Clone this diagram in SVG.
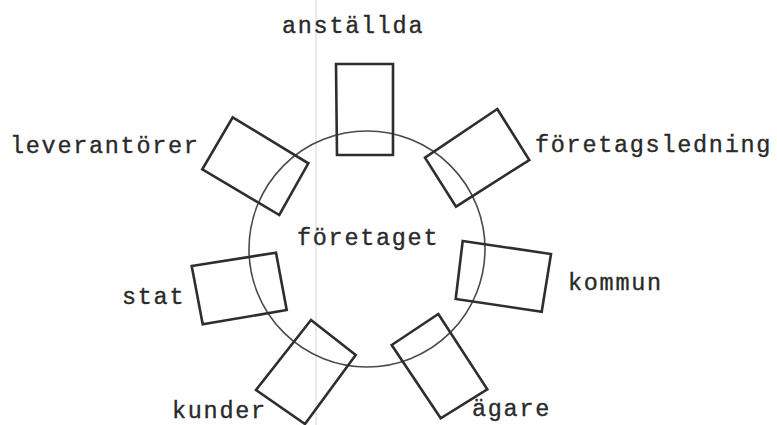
<svg xmlns="http://www.w3.org/2000/svg" width="777" height="425" viewBox="0 0 777 425">
<style>
.bg{fill:#ffffff}
.crease{stroke:#d4d4d4;stroke-width:1;fill:none}
.circle{fill:none;stroke:#4a4a4a;stroke-width:1.6}
.box{fill:none;stroke:#2e2e2e;stroke-width:2.6;stroke-linejoin:miter}
.lbl{font-family:"Liberation Mono","DejaVu Sans Mono",monospace;font-size:23.5px;fill:#2a2a2a;stroke:#2a2a2a;stroke-width:0.35;letter-spacing:1.7px}
</style>
<rect class="bg" x="0" y="0" width="777" height="425"/>
<line class="crease" x1="316" y1="0" x2="316" y2="425"/>
<g id="foretaget">
<circle class="circle" cx="367" cy="249" r="118"/>
<text class="lbl" x="297" y="245">företaget</text>
</g>
<g id="connectors"></g>
<g id="anstallda">
<polygon class="box" points="336,64 393,64 393,155 337,155"/>
<text class="lbl" x="282" y="33">anställda</text>
</g>
<g id="foretagsledning">
<polygon class="box" points="497.3,109 529.3,160 456,206.7 425,157.7"/>
<text class="lbl" x="535" y="152">företagsledning</text>
</g>
<g id="kommun">
<polygon class="box" points="462.7,241 551,254 541.7,311.7 455.7,299"/>
<text class="lbl" x="568" y="290">kommun</text>
</g>
<g id="agare">
<polygon class="box" points="438.3,314 487.3,389.3 440.7,418.3 391.7,345"/>
<text class="lbl" x="472" y="416">ägare</text>
</g>
<g id="kunder">
<polygon class="box" points="311,320 355.7,355 305,424 256,390"/>
<text class="lbl" x="172" y="418">kunder</text>
</g>
<g id="stat">
<polygon class="box" points="191.7,266 276,252.7 286.7,310 202.7,324.3"/>
<text class="lbl" x="122" y="304">stat</text>
</g>
<g id="leverantorer">
<polygon class="box" points="232.7,117.3 308.3,163.3 279.3,215 202.3,169.3"/>
<text class="lbl" x="10" y="153">leverantörer</text>
</g>
</svg>
